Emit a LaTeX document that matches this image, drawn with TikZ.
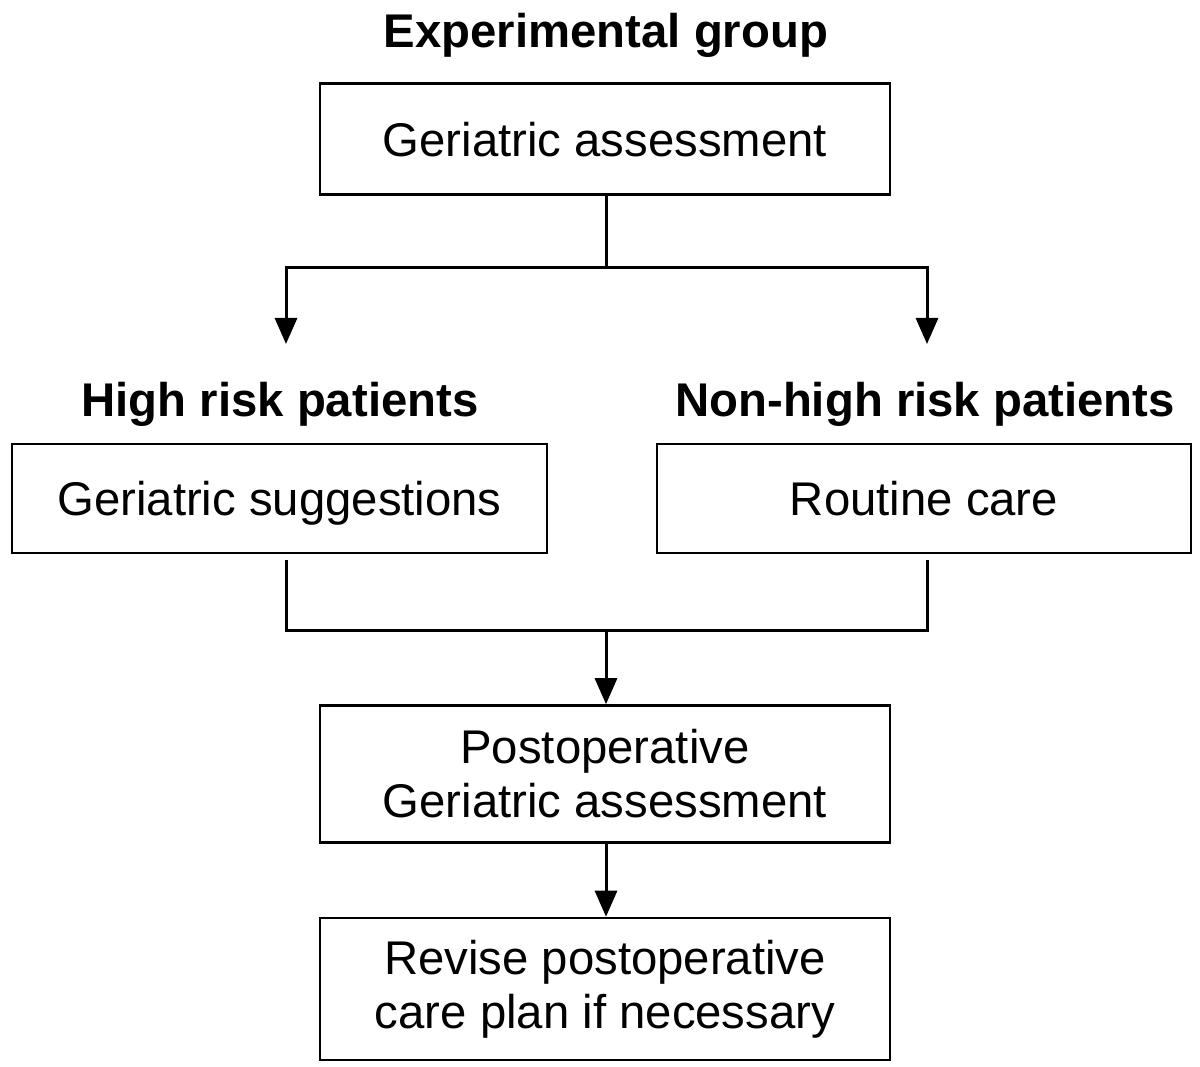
\documentclass[tikz,border=0pt]{standalone}
\usepackage{fontspec}
\setmainfont{Liberation Sans}
\usetikzlibrary{arrows.meta}
\begin{document}
\begin{tikzpicture}[x=1pt,y=-1pt,
  box/.style={draw,line width=2.6pt,inner sep=0pt,align=center,
    font=\fontsize{47.3}{54}\selectfont},
  oneline/.style={text depth=0pt},
  head/.style={inner sep=0pt,text depth=0pt,font=\fontsize{47.3}{54}\selectfont\bfseries},
  conn/.style={line width=3pt},
  arr/.style={line width=3pt,-{Triangle[width=22pt,length=26pt]}}]
\useasboundingbox (0,0) rectangle (1200,1067);
\node[head] (title) at (606,30) {Experimental group};
\node[box,oneline,minimum width=570,minimum height=111] (ga) at (605,139) {Geriatric assessment};
\node[head] (hr) at (280,399) {High risk patients};
\node[head] (nhr) at (925,399) {Non-high risk patients};
\node[box,oneline,minimum width=535,minimum height=109] (gs) at (279.5,498.5) {Geriatric suggestions};
\node[box,oneline,minimum width=534,minimum height=109] (rc) at (924,498.5) {Routine care};
\node[box,minimum width=570,minimum height=137] (po) at (605,774) {Postoperative\\Geriatric assessment};
\node[box,minimum width=570,minimum height=142] (rv) at (605,989) {Revise postoperative\\care plan if necessary};
\coordinate (j1) at (606,268);
\coordinate (l1) at (286,268);
\coordinate (r1) at (927,268);
\coordinate (la) at (286,344);
\coordinate (ra) at (927,344);
\coordinate (ls) at (286,560);
\coordinate (rs) at (927,560);
\coordinate (lb) at (286,630);
\coordinate (rb) at (927,630);
\coordinate (j2) at (606,630);
\draw[conn] (ga.south -| j1) -- (j1);
\draw[arr] (j1) -- (l1) -- (la);
\draw[arr] (j1) -- (r1) -- (ra);
\draw[conn] (ls) -- (lb) -- (rb) -- (rs);
\draw[arr] (j2) -- (po.north -| j2);
\draw[arr] (po.south -| j2) -- (rv.north -| j2);
\end{tikzpicture}
\end{document}
